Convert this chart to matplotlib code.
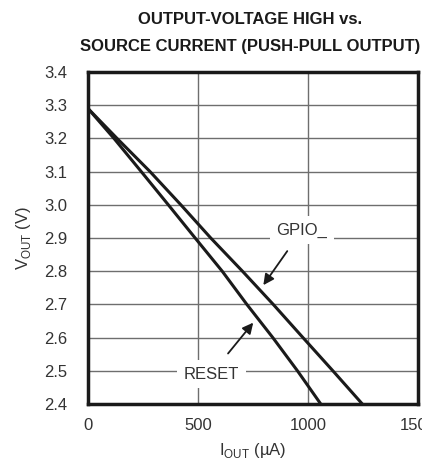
import numpy as np
import matplotlib
matplotlib.use('Agg')
import matplotlib.pyplot as plt

# ------------------------------------------------------
# Data (VOUT vs IOUT, push-pull output)
v_points = [3.29, 3.2, 3.1, 3.0, 2.9, 2.8, 2.7, 2.6, 2.5, 2.4]
i_gpio = [0, 132, 282, 422, 558, 702, 842, 977, 1113, 1247]
i_reset = [0, 118, 242, 365, 487, 610, 722, 840, 952, 1058]

x_ticks = [0, 500, 1000, 1500]
y_ticks = [2.4, 2.5, 2.6, 2.7, 2.8, 2.9, 3.0, 3.1, 3.2, 3.3, 3.4]
# ------------------------------------------------------

font = ['Liberation Sans', 'DejaVu Sans']
plt.rcParams['font.family'] = font
plt.rcParams['mathtext.fontset'] = 'custom'
plt.rcParams['mathtext.rm'] = 'Liberation Sans'

fig = plt.figure(figsize=(4.22, 4.63), dpi=100)
ax = fig.add_axes([88 / 422, 59 / 463, 330 / 422, 332 / 463])

ax.plot(i_gpio, v_points, color='#1a1a1a', lw=2.2, zorder=3)
ax.plot(i_reset, v_points, color='#1a1a1a', lw=2.2, zorder=3)

ax.set_xlim(0, 1500)
ax.set_ylim(2.4, 3.4)
ax.set_xticks(x_ticks)
ax.set_yticks(y_ticks)
ax.set_yticklabels([f'{v:.1f}' for v in y_ticks])
ax.tick_params(length=0, labelsize=12, colors='#333333')
ax.tick_params(axis='y', pad=15)
ax.tick_params(axis='x', pad=10)
ax.grid(True, color='#6e6e6e', lw=1.0)
for s in ax.spines.values():
    s.set_linewidth(2.5)
    s.set_color('#1a1a1a')

ax.set_xlabel(r'I$_{\rm OUT}$ (µA)', fontsize=12, color='#333333', labelpad=6)
ax.set_ylabel(r'V$_{\rm OUT}$ (V)', fontsize=12, color='#333333', labelpad=8)

# labels with arrows
bbox = dict(boxstyle='square,pad=0.4', fc='white', ec='none')
ax.annotate('GPIO_', xy=(797, 2.758), xytext=(973, 2.924), fontsize=12,
            color='#333333', ha='center', va='center', bbox=bbox, zorder=4,
            arrowprops=dict(arrowstyle='-|>', color='#1a1a1a', lw=1.3,
                            mutation_scale=16, shrinkA=6, shrinkB=0))
ax.annotate('RESET', xy=(751, 2.645), xytext=(560, 2.49), fontsize=12,
            color='#333333', ha='center', va='center', bbox=bbox, zorder=4,
            arrowprops=dict(arrowstyle='-|>', color='#1a1a1a', lw=1.3,
                            mutation_scale=16, shrinkA=6, shrinkB=0))

fig.text(250 / 422, 1 - 19 / 463, 'OUTPUT-VOLTAGE HIGH vs.', ha='center', va='center',
         fontsize=12, fontweight='bold', color='#1a1a1a')
fig.text(250 / 422, 1 - 46 / 463, 'SOURCE CURRENT (PUSH-PULL OUTPUT)', ha='center',
         va='center', fontsize=12, fontweight='bold', color='#1a1a1a')

fig.savefig('out.png', dpi=100)
